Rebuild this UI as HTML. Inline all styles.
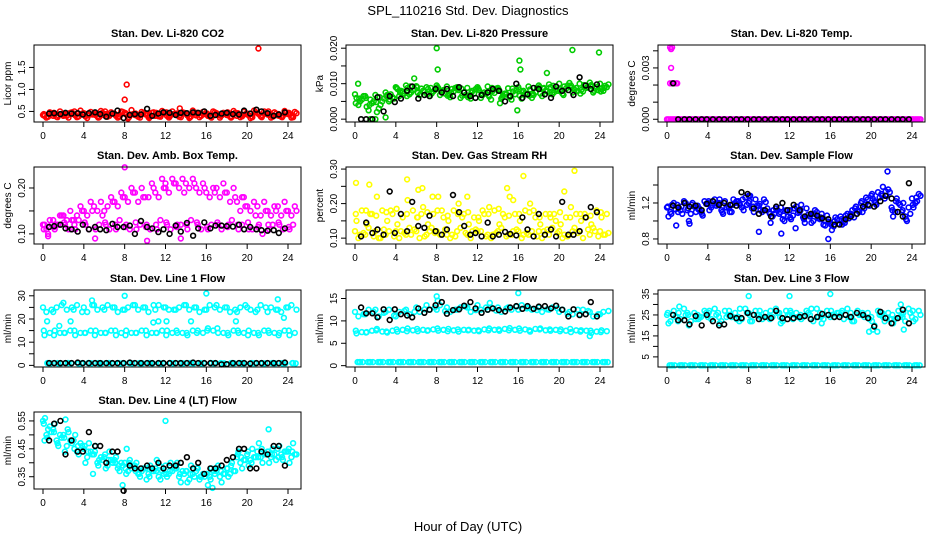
<!DOCTYPE html>
<html><head><meta charset="utf-8"><style>
html,body{margin:0;padding:0;background:#fff;}
svg{display:block;font-family:"Liberation Sans",Arial,sans-serif;}
</style></head><body>
<svg id="chart" width="936" height="540" viewBox="0 0 936 540" xmlns="http://www.w3.org/2000/svg">
<rect x="0" y="0" width="936" height="540" fill="#fff"/>
<text x="468" y="15" font-size="13" text-anchor="middle">SPL_110216  Std. Dev. Diagnostics</text>
<text x="468" y="531" font-size="13" text-anchor="middle">Hour of Day (UTC)</text>
</svg>
<script>
const svg = document.getElementById('chart');
const NS = 'http://www.w3.org/2000/svg';

const xTicks = [0,4,8,12,16,20,24];
const blackHours = [0.6,1.1,1.7,2.2,2.8,3.4,3.9,4.5,5.1,5.6,6.2,6.8,7.3,7.9,8.5,9.0,9.6,10.2,10.7,11.3,11.8,12.4,13.0,13.5,14.1,14.7,15.2,15.8,16.4,16.9,17.5,18.0,18.6,19.2,19.7,20.3,20.9,21.4,22.0,22.6,23.1,23.7];
const strandOffsets = [0,0.33,0.67,0.15,0.5,0.83,0.08,0.42,0.75,0.25,0.58,0.92];

// Panel 1 CO2
const co2Strands = [
[0.42,0.45,0.40,0.44,0.46,0.43,0.41,0.45,0.47,0.42,0.44,0.40,0.46,0.43,0.45,0.41,0.44,0.46,0.42,0.40,0.45,0.47,0.43,0.41,0.44],
[0.36,0.38,0.40,0.37,0.35,0.39,0.38,0.36,0.34,0.38,0.37,0.39,0.36,0.38,0.35,0.37,0.39,0.36,0.38,0.37,0.35,0.39,0.36,0.38,0.36],
[0.48,0.50,0.47,0.52,0.49,0.51,0.48,0.50,0.53,0.49,0.47,0.51,0.50,0.48,0.52,0.49,0.50,0.47,0.51,0.49,0.52,0.50,0.48,0.51,0.49],
[0.40,0.43,0.45,0.41,0.39,0.42,0.44,0.40,0.43,0.41,0.45,0.42,0.40,0.44,0.41,0.43,0.40,0.42,0.45,0.43,0.41,0.44,0.42,0.40,0.43],
[0.38,0.41,0.36,0.39,0.42,0.37,0.40,0.38,0.41,0.36,0.40,0.38,0.42,0.37,0.39,0.40,0.36,0.41,0.38,0.39,0.37,0.41,0.38,0.40,0.37],
[0.46,0.44,0.48,0.45,0.43,0.47,0.45,0.49,0.44,0.46,0.48,0.45,0.44,0.47,0.46,0.44,0.48,0.45,0.47,0.44,0.48,0.46,0.45,0.47,0.46],
[0.44,0.47,0.43,0.50,0.44,0.46,0.50,0.43,0.46,0.45,0.43,0.47,0.48,0.45,0.43,0.47,0.45,0.43,0.48,0.46,0.43,0.45,0.50,0.44,0.47],
[0.39,0.37,0.42,0.38,0.41,0.36,0.43,0.39,0.37,0.42,0.38,0.41,0.39,0.42,0.37,0.41,0.38,0.40,0.36,0.42,0.39,0.37,0.41,0.37,0.40]];
const co2OutX = [8.0,8.2,21.1,13.4,10.4,1.0];
const co2OutY = [0.77,1.11,1.93,0.57,0.35,0.40];
const co2Black = [0.45,0.46,0.44,0.47,0.45,0.46,0.43,0.46,0.48,0.44,0.38,0.45,0.52,0.35,0.42,0.44,0.43,0.56,0.40,0.45,0.48,0.47,0.42,0.47,0.46,0.48,0.47,0.50,0.40,0.42,0.45,0.47,0.44,0.43,0.52,0.45,0.54,0.50,0.46,0.40,0.43,0.48];

// Panel 2 pressure
const presStrands = [
[0.0070,0.0065,0.0068,0.0075,0.0090,0.0095,0.0093,0.0090,0.0095,0.0092,0.0090,0.0088,0.0090,0.0092,0.0088,0.0087,0.0090,0.0092,0.0095,0.0098,0.0100,0.0102,0.0100,0.0103,0.0100],
[0.0040,0.0025,0.0030,0.0050,0.0065,0.0070,0.0068,0.0065,0.0068,0.0062,0.0060,0.0058,0.0060,0.0055,0.0058,0.0055,0.0058,0.0060,0.0065,0.0070,0.0072,0.0075,0.0078,0.0075,0.0080],
[0.0055,0.0045,0.0050,0.0062,0.0078,0.0082,0.0080,0.0078,0.0082,0.0078,0.0075,0.0072,0.0075,0.0074,0.0072,0.0070,0.0073,0.0076,0.0080,0.0084,0.0086,0.0088,0.0088,0.0090,0.0090],
[0.0060,0.0035,0.0020,0.0068,0.0085,0.0088,0.0074,0.0085,0.0088,0.0070,0.0082,0.0066,0.0082,0.0064,0.0080,0.0062,0.0066,0.0084,0.0072,0.0090,0.0078,0.0095,0.0082,0.0096,0.0085],
[0.0050,0.0055,0.0040,0.0070,0.0080,0.0075,0.0086,0.0072,0.0076,0.0085,0.0066,0.0080,0.0068,0.0080,0.0066,0.0078,0.0080,0.0068,0.0088,0.0076,0.0092,0.0082,0.0094,0.0086,0.0094],
[0.0065,0.0050,0.0058,0.0058,0.0072,0.0085,0.0078,0.0082,0.0072,0.0088,0.0068,0.0085,0.0072,0.0086,0.0070,0.0082,0.0070,0.0088,0.0078,0.0080,0.0095,0.0080,0.0090,0.0082,0.0098],
[0.0045,0.0060,0.0048,0.0065,0.0088,0.0065,0.0090,0.0070,0.0090,0.0066,0.0086,0.0062,0.0086,0.0068,0.0084,0.0066,0.0084,0.0066,0.0090,0.0074,0.0084,0.0090,0.0072,0.0094,0.0078],
[0.0058,0.0040,0.0062,0.0055,0.0075,0.0092,0.0070,0.0088,0.0080,0.0075,0.0086,0.0075,0.0070,0.0088,0.0062,0.0086,0.0076,0.0072,0.0086,0.0094,0.0068,0.0086,0.0096,0.0080,0.0088]];
const presOutX = [0.3,1.5,2.0,3.0,8.0,8.1,16.1,16.2,21.3,23.9,5.8,15.9,14.2,18.8];
const presOutY = [0.010,0.000,0.000,0.0005,0.020,0.014,0.0165,0.014,0.0195,0.0188,0.0115,0.0025,0.0045,0.013];
const presBlack = [0.000,0.000,0.000,0.0062,0.0022,0.0065,0.0048,0.0058,0.0080,0.0092,0.0058,0.0068,0.0065,0.0085,0.0075,0.0085,0.0065,0.0090,0.0075,0.0065,0.0060,0.0068,0.0075,0.0085,0.0080,0.0050,0.0065,0.0100,0.0060,0.0070,0.0088,0.0085,0.0070,0.0060,0.0092,0.0080,0.0082,0.0068,0.0118,0.0095,0.0085,0.0098];

// Panel 3 temp
const tempStrands = [
[0,0,0,0,0,0,0,0,0,0,0,0,0,0,0,0,0,0,0,0,0,0,0,0,0],
[0,0,0,0,0,0,0,0,0,0,0,0,0,0,0,0,0,0,0,0,0,0,0,0,0],
[0,0,0,0,0,0,0,0,0,0,0,0,0,0,0,0,0,0,0,0,0,0,0,0,0],
[0,0,0,0,0,0,0,0,0,0,0,0,0,0,0,0,0,0,0,0,0,0,0,0,0],
[0,0,0,0,0,0,0,0,0,0,0,0,0,0,0,0,0,0,0,0,0,0,0,0,0],
[0,0,0,0,0,0,0,0,0,0,0,0,0,0,0,0,0,0,0,0,0,0,0,0,0]];
const tempOutX = [0.3,0.4,0.5,0.4,0.3,0.5,0.7,0.9,1.0];
const tempOutY = [0.0042,0.0041,0.0042,0.0030,0.0021,0.0021,0.0021,0.0021,0.0021];
const tempBlack = [0.0021,0,0,0,0,0,0,0,0,0,0,0,0,0,0,0,0,0,0,0,0,0,0,0,0,0,0,0,0,0,0,0,0,0,0,0,0,0,0,0,0,0];

// Panel 4 amb box temp
const ambStrands = [
[0.12,0.13,0.14,0.13,0.15,0.16,0.15,0.17,0.18,0.19,0.18,0.19,0.20,0.21,0.21,0.20,0.19,0.20,0.19,0.17,0.16,0.16,0.15,0.16,0.15],
[0.11,0.12,0.13,0.14,0.14,0.15,0.16,0.16,0.17,0.17,0.18,0.18,0.19,0.20,0.20,0.19,0.18,0.18,0.17,0.15,0.15,0.14,0.14,0.14,0.14],
[0.13,0.14,0.15,0.16,0.17,0.17,0.18,0.19,0.20,0.20,0.21,0.22,0.22,0.22,0.22,0.21,0.20,0.21,0.20,0.18,0.17,0.17,0.16,0.17,0.16],
[0.12,0.11,0.12,0.11,0.12,0.11,0.12,0.11,0.12,0.11,0.12,0.11,0.12,0.12,0.11,0.12,0.11,0.12,0.12,0.11,0.11,0.12,0.11,0.12,0.11],
[0.10,0.12,0.11,0.13,0.11,0.12,0.11,0.13,0.11,0.12,0.11,0.13,0.11,0.12,0.13,0.11,0.12,0.11,0.13,0.12,0.11,0.10,0.12,0.11,0.12],
[0.12,0.14,0.13,0.15,0.15,0.14,0.17,0.18,0.19,0.18,0.20,0.20,0.21,0.19,0.21,0.20,0.19,0.19,0.18,0.16,0.14,0.15,0.15,0.15,0.15],
[0.11,0.115,0.125,0.12,0.125,0.115,0.125,0.12,0.115,0.125,0.115,0.12,0.125,0.115,0.12,0.125,0.115,0.125,0.115,0.12,0.125,0.115,0.12,0.125,0.115]];
const ambOutX = [0.5,8.0,10.2,12.0,13.5,19.5,5.1];
const ambOutY = [0.095,0.245,0.085,0.21,0.09,0.18,0.09];
const ambBlack = [0.115,0.117,0.120,0.112,0.110,0.105,0.120,0.110,0.115,0.110,0.108,0.122,0.115,0.115,0.118,0.100,0.128,0.115,0.112,0.104,0.110,0.100,0.118,0.105,0.124,0.096,0.112,0.125,0.112,0.118,0.118,0.117,0.116,0.120,0.110,0.115,0.110,0.108,0.107,0.108,0.102,0.112];

// Panel 5 RH
const rhStrands = [
[0.12,0.11,0.12,0.11,0.12,0.11,0.12,0.11,0.12,0.11,0.12,0.11,0.12,0.11,0.12,0.11,0.12,0.11,0.12,0.11,0.12,0.11,0.12,0.11,0.12],
[0.10,0.13,0.10,0.12,0.10,0.13,0.10,0.12,0.11,0.10,0.13,0.10,0.12,0.10,0.13,0.11,0.10,0.12,0.10,0.13,0.10,0.12,0.10,0.13,0.11],
[0.18,0.17,0.18,0.17,0.16,0.18,0.19,0.17,0.16,0.18,0.17,0.16,0.17,0.18,0.16,0.17,0.18,0.16,0.17,0.15,0.16,0.17,0.16,0.18,0.17],
[0.15,0.14,0.22,0.15,0.14,0.21,0.16,0.14,0.22,0.15,0.20,0.14,0.15,0.19,0.14,0.22,0.15,0.20,0.14,0.16,0.14,0.19,0.15,0.14,0.16],
[0.11,0.17,0.10,0.18,0.12,0.11,0.17,0.13,0.18,0.11,0.16,0.12,0.18,0.11,0.17,0.12,0.11,0.18,0.12,0.17,0.11,0.13,0.17,0.12,0.11],
[0.115,0.105,0.125,0.105,0.115,0.125,0.105,0.115,0.125,0.105,0.115,0.125,0.105,0.115,0.105,0.125,0.115,0.105,0.125,0.115,0.105,0.115,0.125,0.105,0.115],
[0.17,0.18,0.165,0.175,0.185,0.17,0.16,0.175,0.18,0.165,0.17,0.175,0.16,0.17,0.185,0.165,0.17,0.175,0.16,0.17,0.175,0.16,0.17,0.165,0.175]];
const rhOutX = [0.1,1.4,5.1,6.2,6.6,11.0,14.9,16.5,21.5,20.5,7.6,15.5];
const rhOutY = [0.26,0.255,0.27,0.24,0.245,0.22,0.245,0.28,0.295,0.235,0.22,0.21];
const rhBlack = [0.105,0.145,0.115,0.125,0.11,0.235,0.115,0.17,0.12,0.205,0.135,0.13,0.165,0.12,0.11,0.125,0.225,0.175,0.135,0.11,0.115,0.105,0.145,0.105,0.11,0.118,0.112,0.108,0.16,0.125,0.105,0.17,0.11,0.125,0.105,0.205,0.11,0.11,0.12,0.16,0.19,0.175];

// Panel 6 sample flow
const sfStrands = [
[1.15,1.18,1.12,1.17,1.20,1.18,1.16,1.22,1.20,1.17,1.10,1.08,1.12,1.10,1.05,1.02,0.98,1.05,1.08,1.20,1.28,1.30,1.15,1.10,1.25],
[1.10,1.12,1.08,1.10,1.15,1.12,1.10,1.15,1.14,1.10,1.05,1.02,1.06,1.04,1.00,0.96,0.94,1.00,1.04,1.14,1.22,1.25,1.10,1.05,1.20],
[1.20,1.22,1.16,1.22,1.24,1.22,1.20,1.26,1.24,1.21,1.14,1.12,1.16,1.14,1.10,1.06,1.02,1.08,1.12,1.24,1.32,1.35,1.20,1.15,1.30],
[1.05,1.15,1.00,1.14,1.12,1.24,1.10,1.18,1.28,1.12,0.98,1.15,1.02,1.18,0.98,1.08,0.90,0.96,1.12,1.10,1.25,1.38,1.05,1.20,1.15],
[1.18,1.08,1.20,1.06,1.22,1.08,1.24,1.12,1.10,1.24,1.08,1.00,1.14,0.98,1.12,0.95,1.04,1.06,1.16,1.26,1.18,1.28,1.25,1.00,1.22],
[1.13,1.20,1.10,1.19,1.17,1.15,1.22,1.18,1.17,1.14,1.12,1.05,1.09,1.07,1.03,0.99,0.97,1.03,1.10,1.17,1.26,1.32,1.18,1.08,1.28],
[1.16,1.10,1.14,1.13,1.22,1.20,1.14,1.20,1.22,1.19,1.08,1.10,1.04,1.12,1.07,1.04,0.96,1.02,1.06,1.22,1.30,1.28,1.12,1.12,1.18],
[1.08,1.16,1.18,1.08,1.18,1.10,1.18,1.24,1.16,1.12,1.12,1.06,1.14,1.02,1.08,1.00,1.00,0.98,1.14,1.18,1.20,1.33,1.22,1.02,1.26]];
const sfOutX = [0.9,2.2,9.0,11.2,12.6,15.8,21.6,8.0];
const sfOutY = [0.95,0.97,0.88,0.86,0.92,0.80,1.55,1.28];
const sfBlack = [1.17,1.15,1.20,1.16,1.17,1.12,1.19,1.22,1.18,1.20,1.18,1.17,1.32,1.30,1.14,1.08,1.12,1.05,1.16,1.20,1.12,1.18,1.12,1.05,1.08,1.06,1.03,1.02,0.96,0.96,1.02,1.05,1.08,1.16,1.18,1.16,1.22,1.28,1.25,1.10,1.05,1.42];

// Panel 7 line 1
const l1Strands = [
[25,23,27,24,25,26,24,25,24,26,25,24,25,24,26,25,24,26,25,23,25,24,23,24,25],
[23,25,24,26,23,24,26,23,25,24,23,26,24,25,24,23,26,24,23,25,24,26,25,23,26],
[14,14,15,14,15,14,15,14,14,15,14,15,14,14,15,14,15,14,15,14,14,15,14,15,14],
[13,15,14,13,14,15,14,13,15,14,13,14,15,14,13,15,16,14,13,14,15,13,14,14,13],
[1,0.8,1,0.8,1,0.8,1,0.8,1,0.8,1,0.8,1,0.8,1,0.8,1,0.8,1,0.8,1,0.8,1,0.8,1],
[24,26,25,23,26,25,25,24,26,25,26,25,24,26,25,24,25,25,24,26,23,25,24,25,24],
[15,13,14,15,14,13,14,15,13,14,15,14,13,15,14,14,15,16,14,15,13,14,15,13,15],
[1,1,1,1,1,1,1,1,1,1,1,1,1,1,1,1,1,1,1,1,1,1,1,1,1],
[0.9,0.9,0.9,0.9,0.9,0.9,0.9,0.9,0.9,0.9,0.9,0.9,0.9,0.9,0.9,0.9,0.9,0.9,0.9,0.9,0.9,0.9,0.9,0.9,0.9]];
const l1OutX = [0.4,1.6,2.7,8.0,4.8,12.1,16.0,14.5,18.9,23.0,23.6,11.3,10.8];
const l1OutY = [19,17,19,30,28,19,31,19,19,28.5,20.5,19,18.5];
const l1Black = [1,1,1,1,1,1.2,1,1,1,1,1,1,1,1,1.2,1,1,1,1,1,1,1,1,1,1,1.2,1,1,1,1,0.4,0.5,1,1,1,0.8,1,1,1,1,1,1.2];

// Panel 8 line 2
const l2Strands = [
[12,11.5,12.5,12,11,12.5,13,13.5,12.5,13,12.5,13,13.5,12.5,13,13,12.5,13,13,12.5,12,12,11.5,12,11.5],
[11,12.5,11,12.5,12,11.5,12,12.5,13.5,12,13,12,12.5,13,12,12.5,13.5,12.5,12,13,12.5,11.5,12.5,11,12],
[7.5,7.8,7.6,7.8,8,7.9,8,8.1,8,7.9,8,7.8,8.1,8,8.2,8,8.1,8.2,7.9,8,7.8,7.9,7.8,7.6,7.7],
[7.2,7.5,8.2,7.4,7.6,8.3,7.7,7.9,7.8,8.2,7.6,8,7.7,8.3,7.8,8.4,7.8,7.6,8.3,7.8,8.1,7.5,7.9,7.3,7.9],
[0.8,0.8,0.8,0.8,0.8,0.8,0.8,0.8,0.8,0.8,0.8,0.8,0.8,0.8,0.8,0.8,0.8,0.8,0.8,0.8,0.8,0.8,0.8,0.8,0.8],
[11.5,12,11.8,11.2,12.2,12,12.6,13,12.2,12.5,13.2,12.4,13,12.3,12.8,13.2,12.8,12.4,12.6,12.8,11.6,12.5,12.2,11.5,12.2],
[7.8,7.4,7.9,7.6,8.1,7.7,8.2,7.8,8.3,7.7,8.1,7.9,7.9,7.9,8.1,7.9,8.3,7.9,8.1,8.1,7.7,8.2,7.6,7.8,7.5],
[0.8,0.8,0.8,0.8,0.8,0.8,0.8,0.8,0.8,0.8,0.8,0.8,0.8,0.8,0.8,0.8,0.8,0.8,0.8,0.8,0.8,0.8,0.8,0.8,0.8],
[0.8,0.8,0.8,0.8,0.8,0.8,0.8,0.8,0.8,0.8,0.8,0.8,0.8,0.8,0.8,0.8,0.8,0.8,0.8,0.8,0.8,0.8,0.8,0.8,0.8],
[0.8,0.8,0.8,0.8,0.8,0.8,0.8,0.8,0.8,0.8,0.8,0.8,0.8,0.8,0.8,0.8,0.8,0.8,0.8,0.8,0.8,0.8,0.8,0.8,0.8]];
const l2OutX = [8.0,16.0,8.1,13.2,23.0];
const l2OutY = [15.5,16.2,14.5,14.0,6.6];
const l2Black = [13.0,11.7,11.7,10.8,12.6,10.2,12.6,11.5,11.2,10.8,12.8,11.8,12.5,13.5,14.2,11.6,12.4,12.6,13.4,14.2,12.8,11.8,12.5,12.8,12.4,12.1,13.0,13.3,12.7,13.3,12.7,13.2,13.3,12.8,13.4,12.5,11.0,12.6,11.3,11.5,14.2,11.0];

// Panel 9 line 3
const l3Strands = [
[25,24,26,25,24,26,25,24,26,25,24,26,25,24,25,26,24,25,26,25,24,25,23,25,24],
[22,23,22,24,23,22,24,23,22,23,24,22,23,24,22,23,24,23,22,24,20,22,23,22,23],
[27,28,26,27,28,27,26,28,27,26,28,27,26,27,28,27,26,28,27,26,27,26,27,28,27],
[21,26,20,24,27,21,25,28,22,24,27,21,26,23,28,21,25,27,22,26,18,24,21,26,22],
[1,1,1,1,1,1,1,1,1,1,1,1,1,1,1,1,1,1,1,1,1,1,1,1,1],
[24,25,23,26,25,24,23,26,25,24,26,25,24,26,24,25,26,24,25,23,25,23,24,26,25],
[26,22,25,23,26,24,27,22,25,27,23,24,27,25,23,24,27,26,24,25,22,26,25,24,27],
[1,1,1,1,1,1,1,1,1,1,1,1,1,1,1,1,1,1,1,1,1,1,1,1,1],
[1,1,1,1,1,1,1,1,1,1,1,1,1,1,1,1,1,1,1,1,1,1,1,1,1],
[1,1,1,1,1,1,1,1,1,1,1,1,1,1,1,1,1,1,1,1,1,1,1,1,1]];
const l3OutX = [1.2,8.0,12.0,16.0,22.9,19.8,20.6,23.2];
const l3OutY = [29,34,34,35,30,17,17,18];
const l3Black = [25,22.5,22.5,20.5,24.5,20,25,22,20,20.5,24.5,23.5,23.5,26,25,23,24,23.5,27,23.5,23,23.5,24,24.5,23,24,25.5,25,24,24,25,24,26,25,23.5,19.5,26.5,23.5,21,23.5,27.5,21];

// Panel 10 line 4
const l4Strands = [
[0.55,0.52,0.50,0.48,0.45,0.43,0.42,0.41,0.40,0.39,0.38,0.38,0.39,0.38,0.37,0.37,0.36,0.37,0.38,0.42,0.43,0.44,0.44,0.45,0.44],
[0.50,0.48,0.46,0.44,0.42,0.40,0.39,0.38,0.37,0.36,0.36,0.35,0.36,0.35,0.34,0.34,0.35,0.35,0.36,0.40,0.41,0.42,0.42,0.43,0.42],
[0.53,0.50,0.48,0.47,0.44,0.42,0.41,0.40,0.38,0.37,0.37,0.37,0.37,0.37,0.36,0.36,0.37,0.36,0.37,0.41,0.42,0.43,0.43,0.44,0.43],
[0.48,0.54,0.44,0.50,0.40,0.46,0.38,0.42,0.36,0.40,0.34,0.41,0.35,0.40,0.33,0.38,0.32,0.39,0.35,0.44,0.39,0.47,0.40,0.46,0.40],
[0.52,0.46,0.51,0.43,0.47,0.41,0.44,0.37,0.41,0.35,0.39,0.34,0.40,0.33,0.39,0.35,0.38,0.33,0.40,0.38,0.45,0.40,0.45,0.41,0.47],
[0.51,0.49,0.47,0.46,0.43,0.41,0.40,0.39,0.39,0.38,0.37,0.36,0.38,0.36,0.35,0.35,0.36,0.36,0.37,0.41,0.42,0.43,0.41,0.44,0.43],
[0.54,0.51,0.49,0.45,0.46,0.44,0.43,0.40,0.38,0.37,0.38,0.37,0.36,0.38,0.37,0.38,0.36,0.38,0.38,0.43,0.44,0.42,0.44,0.42,0.45],
[0.49,0.47,0.52,0.46,0.44,0.39,0.41,0.39,0.40,0.36,0.35,0.39,0.37,0.36,0.36,0.35,0.34,0.37,0.39,0.42,0.40,0.45,0.43,0.42,0.44]];
const l4OutX = [0.2,2.2,12.0,7.8,8.2,4.9,16.6,22.1];
const l4OutY = [0.56,0.555,0.55,0.32,0.45,0.36,0.31,0.52];
const l4Black = [0.48,0.54,0.55,0.43,0.48,0.44,0.44,0.51,0.46,0.46,0.40,0.44,0.44,0.30,0.39,0.38,0.38,0.39,0.38,0.40,0.38,0.39,0.39,0.40,0.42,0.38,0.40,0.36,0.38,0.38,0.39,0.41,0.42,0.45,0.45,0.38,0.38,0.44,0.43,0.46,0.46,0.39];

const panels = [
 {name:'co2',title:'Stan. Dev. Li-820 CO2',ylab:'Licor ppm',col:0,row:0,ymin:0.26,ymax:2.01,ticks:[0.5,1.0,1.5],labels:['0.5','1.0','1.5'],color:'#ff0000',strands:co2Strands,ox:co2OutX,oy:co2OutY,black:co2Black},
 {name:'pressure',title:'Stan. Dev. Li-820 Pressure',ylab:'kPa',col:1,row:0,ymin:-0.0008,ymax:0.0209,ticks:[0,0.005,0.01,0.015,0.02],labels:['0.000','','0.010','','0.020'],color:'#00cc00',strands:presStrands,ox:presOutX,oy:presOutY,black:presBlack},
 {name:'temp',title:'Stan. Dev. Li-820 Temp.',ylab:'degrees C',col:2,row:0,ymin:-0.00016,ymax:0.00434,ticks:[0,0.001,0.002,0.003,0.004],labels:['0.000','','','0.003',''],color:'#ff00ff',strands:tempStrands,ox:tempOutX,oy:tempOutY,black:tempBlack},
 {name:'amb-box-temp',title:'Stan. Dev. Amb. Box Temp.',ylab:'degrees C',col:0,row:1,ymin:0.078,ymax:0.2457,ticks:[0.10,0.15,0.20],labels:['0.10','','0.20'],color:'#ff00ff',strands:ambStrands,ox:ambOutX,oy:ambOutY,black:ambBlack},
 {name:'gas-stream-rh',title:'Stan. Dev. Gas Stream RH',ylab:'percent',col:1,row:1,ymin:0.083,ymax:0.306,ticks:[0.10,0.15,0.20,0.25,0.30],labels:['0.10','','0.20','','0.30'],color:'#ffff00',strands:rhStrands,ox:rhOutX,oy:rhOutY,black:rhBlack},
 {name:'sample-flow',title:'Stan. Dev. Sample Flow',ylab:'ml/min',col:2,row:1,ymin:0.744,ymax:1.6,ticks:[0.8,1.0,1.2,1.4],labels:['0.8','','1.2',''],color:'#0000ff',strands:sfStrands,ox:sfOutX,oy:sfOutY,black:sfBlack},
 {name:'line1-flow',title:'Stan. Dev. Line 1 Flow',ylab:'ml/min',col:0,row:2,ymin:-0.7,ymax:32.5,ticks:[0,5,10,15,20,25,30],labels:['0','','10','','20','','30'],color:'#00ffff',strands:l1Strands,ox:l1OutX,oy:l1OutY,black:l1Black},
 {name:'line2-flow',title:'Stan. Dev. Line 2 Flow',ylab:'ml/min',col:1,row:2,ymin:-0.3,ymax:16.9,ticks:[0,5,10,15],labels:['0','5','10','15'],color:'#00ffff',strands:l2Strands,ox:l2OutX,oy:l2OutY,black:l2Black},
 {name:'line3-flow',title:'Stan. Dev. Line 3 Flow',ylab:'ml/min',col:2,row:2,ymin:0.17,ymax:36.9,ticks:[5,10,15,20,25,30,35],labels:['5','','15','','25','','35'],color:'#00ffff',strands:l3Strands,ox:l3OutX,oy:l3OutY,black:l3Black},
 {name:'line4-flow',title:'Stan. Dev. Line 4 (LT) Flow',ylab:'ml/min',col:0,row:3,ymin:0.306,ymax:0.582,ticks:[0.35,0.40,0.45,0.50,0.55],labels:['0.35','','0.45','','0.55'],color:'#00ffff',strands:l4Strands,ox:l4OutX,oy:l4OutY,black:l4Black}
];

const colLeft = [34,346,658];
const rowTop = [45,167,290,412];
const PW = 267, PH = 77;

function mk(tag, attrs, parent){
  const e = document.createElementNS(NS, tag);
  for (const k in attrs) e.setAttribute(k, attrs[k]);
  (parent||svg).appendChild(e);
  return e;
}

panels.forEach(p => {
  const L = colLeft[p.col], T = rowTop[p.row];
  const xs = h => L + 9 + h * (245/24);
  const ys = v => T + PH - (v - p.ymin) / (p.ymax - p.ymin) * PH;
  const g = mk('g', {});
  
  

  const title = mk('text', {x: L + PW/2, y: T - 8, 'font-size': 11, 'font-weight': 'bold', 'text-anchor': 'middle'}, g);
  title.textContent = p.title;
  
  

  const pts = mk('g', {fill: 'none', 'stroke-width': 1.6}, g);
  
  
  const dot = (h, v, c) => {
    const y = ys(v);
    if (h > 24.9 || y < T - 3 || y > T + PH + 3) return;
    const cEl = mk('circle', {cx: xs(h).toFixed(1), cy: y.toFixed(1), r: 2.4, stroke: c}, pts);
    
    
  };
  p.strands.forEach((arr, k) => arr.forEach((v, i) => dot(i + strandOffsets[k], v, p.color)));
  p.ox.forEach((h, i) => dot(h, p.oy[i], p.color));
  p.black.forEach((v, i) => dot(blackHours[i], v, '#000'));

  const box = mk('rect', {x: L, y: T, width: PW, height: PH, fill: 'none', stroke: '#000', 'stroke-width': 1}, g);
  
  

  const xa = mk('g', {}, g);
  
  
  mk('line', {x1: xs(0), x2: xs(24), y1: T+PH, y2: T+PH, stroke: '#000'}, xa);
  xTicks.forEach(t => {
    mk('line', {x1: xs(t), x2: xs(t), y1: T+PH, y2: T+PH+5, stroke: '#000'}, xa);
    const tl = mk('text', {x: xs(t), y: T+PH+17, 'font-size': 10, 'text-anchor': 'middle'}, xa);
    tl.textContent = t;
    
    
  });

  const ya = mk('g', {}, g);
  
  
  mk('line', {x1: L, x2: L, y1: ys(p.ticks[0]), y2: ys(p.ticks[p.ticks.length-1]), stroke: '#000'}, ya);
  p.ticks.forEach((t, i) => {
    const y = ys(t);
    mk('line', {x1: L-5, x2: L, y1: y, y2: y, stroke: '#000'}, ya);
    if (p.labels[i]) {
      const tl = mk('text', {x: L-9, y: y, 'font-size': 10, 'text-anchor': 'middle', transform: `rotate(-90 ${L-9} ${y})`}, ya);
      tl.textContent = p.labels[i];
      
      
    }
  });
  const yl = mk('text', {x: L-23, y: T+PH/2, 'font-size': 10, 'text-anchor': 'middle', transform: `rotate(-90 ${L-23} ${T+PH/2})`}, g);
  yl.textContent = p.ylab;
  
  
});
</script>
</body></html>
